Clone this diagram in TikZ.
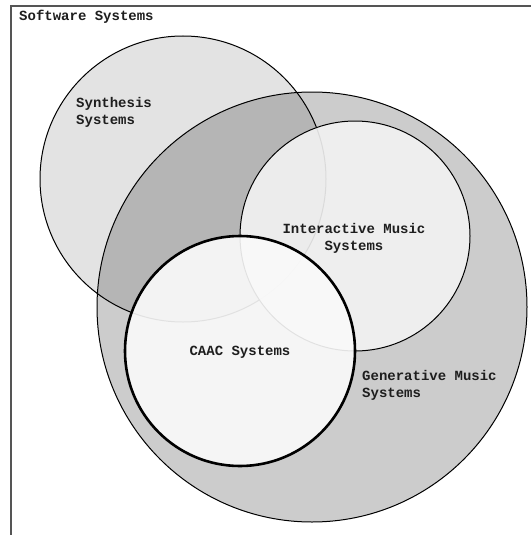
\documentclass[tikz,border=0pt]{standalone}
\usepackage{fontspec}
\setmonofont{Liberation Mono}
\definecolor{gencol}{HTML}{CCCCCC}
\definecolor{intcol}{HTML}{F2F2F2}
\definecolor{caaccol}{HTML}{FAFAFA}
\definecolor{framecol}{HTML}{555555}
\definecolor{txtcol}{HTML}{1E1E1E}
\begin{document}
\begin{tikzpicture}[x=1pt,y=-1pt,
  setcircle/.style={circle,inner sep=0pt,outer sep=0pt,draw=black,line width=1pt},
  lbl/.style={font=\ttfamily\bfseries\fontsize{14}{17}\selectfont,text=txtcol,inner sep=0pt}]
\useasboundingbox (0,0) rectangle (530,535);
\fill[white] (0,0) rectangle (530,535);
% frame
\coordinate (fbl) at (11,536);
\coordinate (ftl) at (11,6);
\coordinate (ftr) at (531,6);
\draw[framecol,line width=1.5pt] (fbl) -- (ftl) -- (ftr);
% circles
\node[setcircle,fill=gencol,minimum size=430pt] (gen) at (312,307) {};
\node[setcircle,fill=black,fill opacity=0.11,minimum size=286pt] (syn) at (183,179) {};
\node[setcircle,fill=intcol,fill opacity=0.9,minimum size=230pt] (int) at (355,236) {};
\node[setcircle,fill=caaccol,fill opacity=0.9,line width=2.6pt,minimum size=230pt] (caac) at (240,351) {};
% labels
\node[lbl,anchor=west] (tsoft) at (19,17) {Software Systems};
\node[lbl,anchor=west,align=left] (tsyn) at (76,112.5) {Synthesis\\Systems};
\node[lbl,align=center] (tint) at (354,238) {Interactive Music\\Systems};
\node[lbl] (tcaac) at (240,352) {CAAC Systems};
\node[lbl,anchor=west,align=left] (tgen) at (362,385.5) {Generative Music\\Systems};
\end{tikzpicture}
\end{document}
